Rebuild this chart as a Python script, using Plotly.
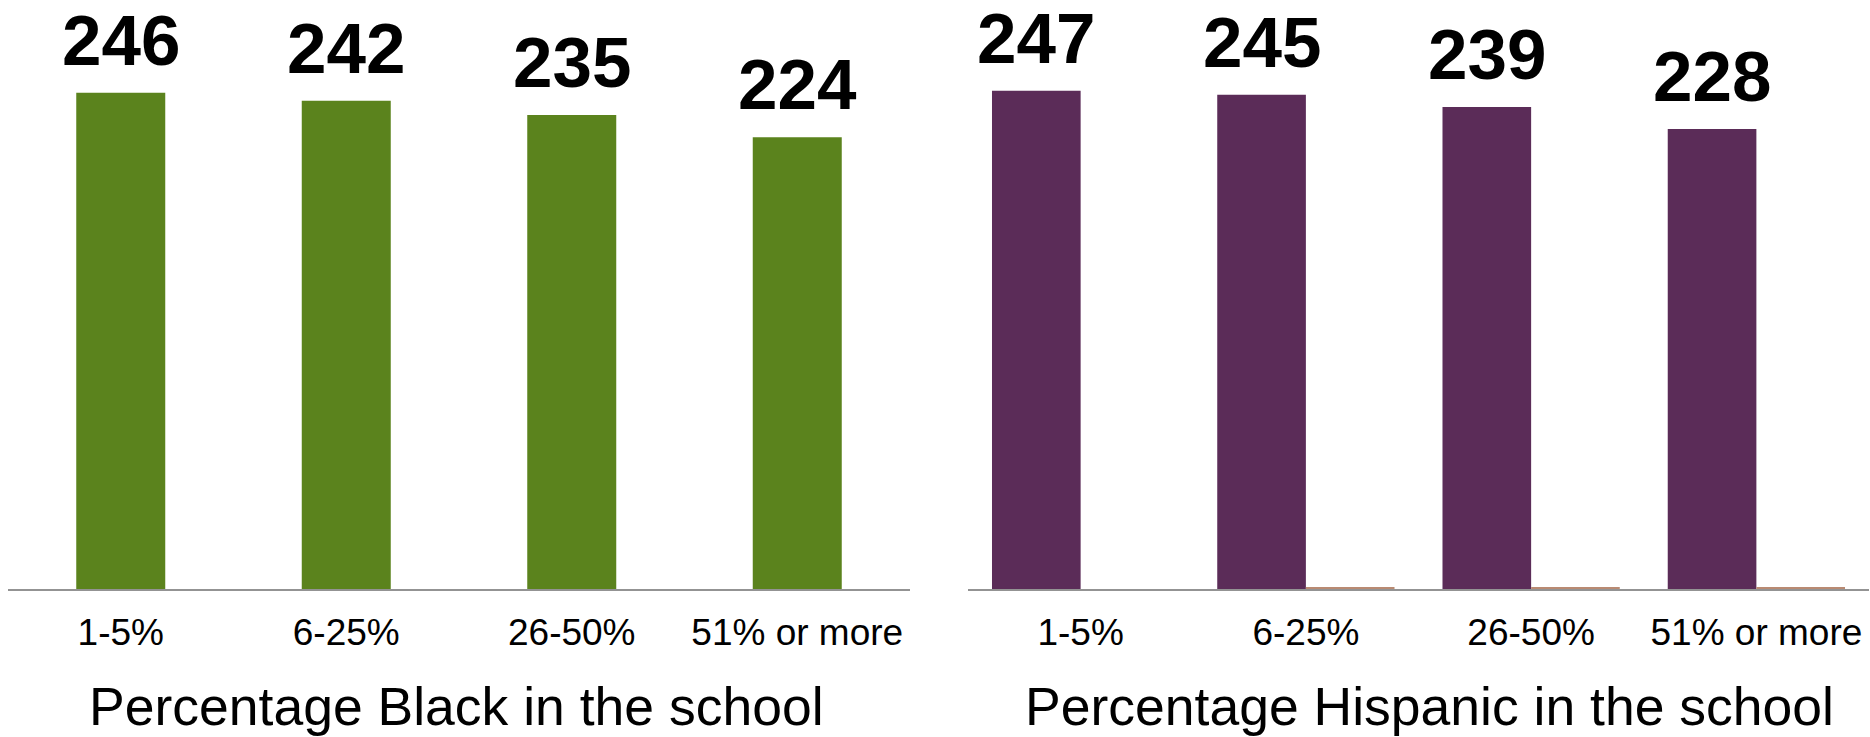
import plotly.graph_objects as go

categories = ["1-5%", "6-25%", "26-50%", "51% or more"]
black_scores = [246, 242, 235, 224]
hispanic_scores = [247, 245, 239, 228]
hispanic_second = [0, 0.5, 0.5, 0.5]
title_black = "Percentage Black in the school"
title_hispanic = "Percentage Hispanic in the school"

FONT = "Liberation Sans, Arial, sans-serif"
W, H = 1870, 737
BASE = 589
YMAX = 292
BARGAP = 0.213

fig = go.Figure()
fig.add_trace(go.Bar(
    x=categories, y=black_scores, xaxis="x", yaxis="y",
    marker=dict(color="#5B831D", line=dict(width=0)),
    width=89 / 225.5,
    showlegend=False, hoverinfo="skip",
))
fig.add_trace(go.Bar(
    x=categories, y=hispanic_scores, xaxis="x2", yaxis="y2",
    marker=dict(color="#5B2C58", line=dict(width=0)),
    showlegend=False, hoverinfo="skip",
))
fig.add_trace(go.Bar(
    x=categories, y=hispanic_second, xaxis="x2", yaxis="y2",
    marker=dict(color="#B98A72", line=dict(width=0)),
    showlegend=False, hoverinfo="skip",
))

# value labels
cat_w_right = (1869 - 968) / len(categories)
bar_w_right = cat_w_right * (1 - BARGAP) / 2
annotations = []
for c, v in zip(categories, black_scores):
    annotations.append(dict(
        x=c, y=v, xref="x", yref="y", text=str(v), showarrow=False,
        xanchor="center", yanchor="bottom", yshift=11,
        font=dict(family=FONT, size=71, color="black", weight="bold")))
for c, v in zip(categories, hispanic_scores):
    annotations.append(dict(
        x=c, y=v, xref="x2", yref="y2", text=str(v), showarrow=False,
        xanchor="center", yanchor="bottom", yshift=11, xshift=-bar_w_right / 2,
        font=dict(family=FONT, size=71, color="black", weight="bold")))

annotations += [
    dict(text=title_black, xref="paper", yref="paper", x=456 / W, y=(H - 706) / H,
         xanchor="center", yanchor="middle", showarrow=False,
         font=dict(family=FONT, size=53.5, color="black")),
    dict(text=title_hispanic, xref="paper", yref="paper", x=1429 / W, y=(H - 706) / H,
         xanchor="center", yanchor="middle", showarrow=False,
         font=dict(family=FONT, size=53.5, color="black")),
]

ybot = (H - BASE) / H
axis_common = dict(
    showline=True, linecolor="#939393", linewidth=2, showgrid=False,
    zeroline=False, ticks="", type="category",
    tickfont=dict(family=FONT, size=37, color="black"),
    ticklabelstandoff=10,
)
fig.update_layout(
    width=W, height=H,
    margin=dict(l=0, r=0, t=0, b=0),
    paper_bgcolor="white", plot_bgcolor="white",
    barmode="group",
    xaxis=dict(domain=[8 / W, 910 / W], anchor="y", **axis_common),
    xaxis2=dict(domain=[968 / W, 1869 / W], anchor="y2", **axis_common),
    yaxis=dict(domain=[ybot, 1], range=[0, YMAX], visible=False, anchor="x"),
    yaxis2=dict(domain=[ybot, 1], range=[0, YMAX], visible=False, anchor="x2"),
    bargap=BARGAP,
    annotations=annotations,
)

fig.write_html("out.html")
